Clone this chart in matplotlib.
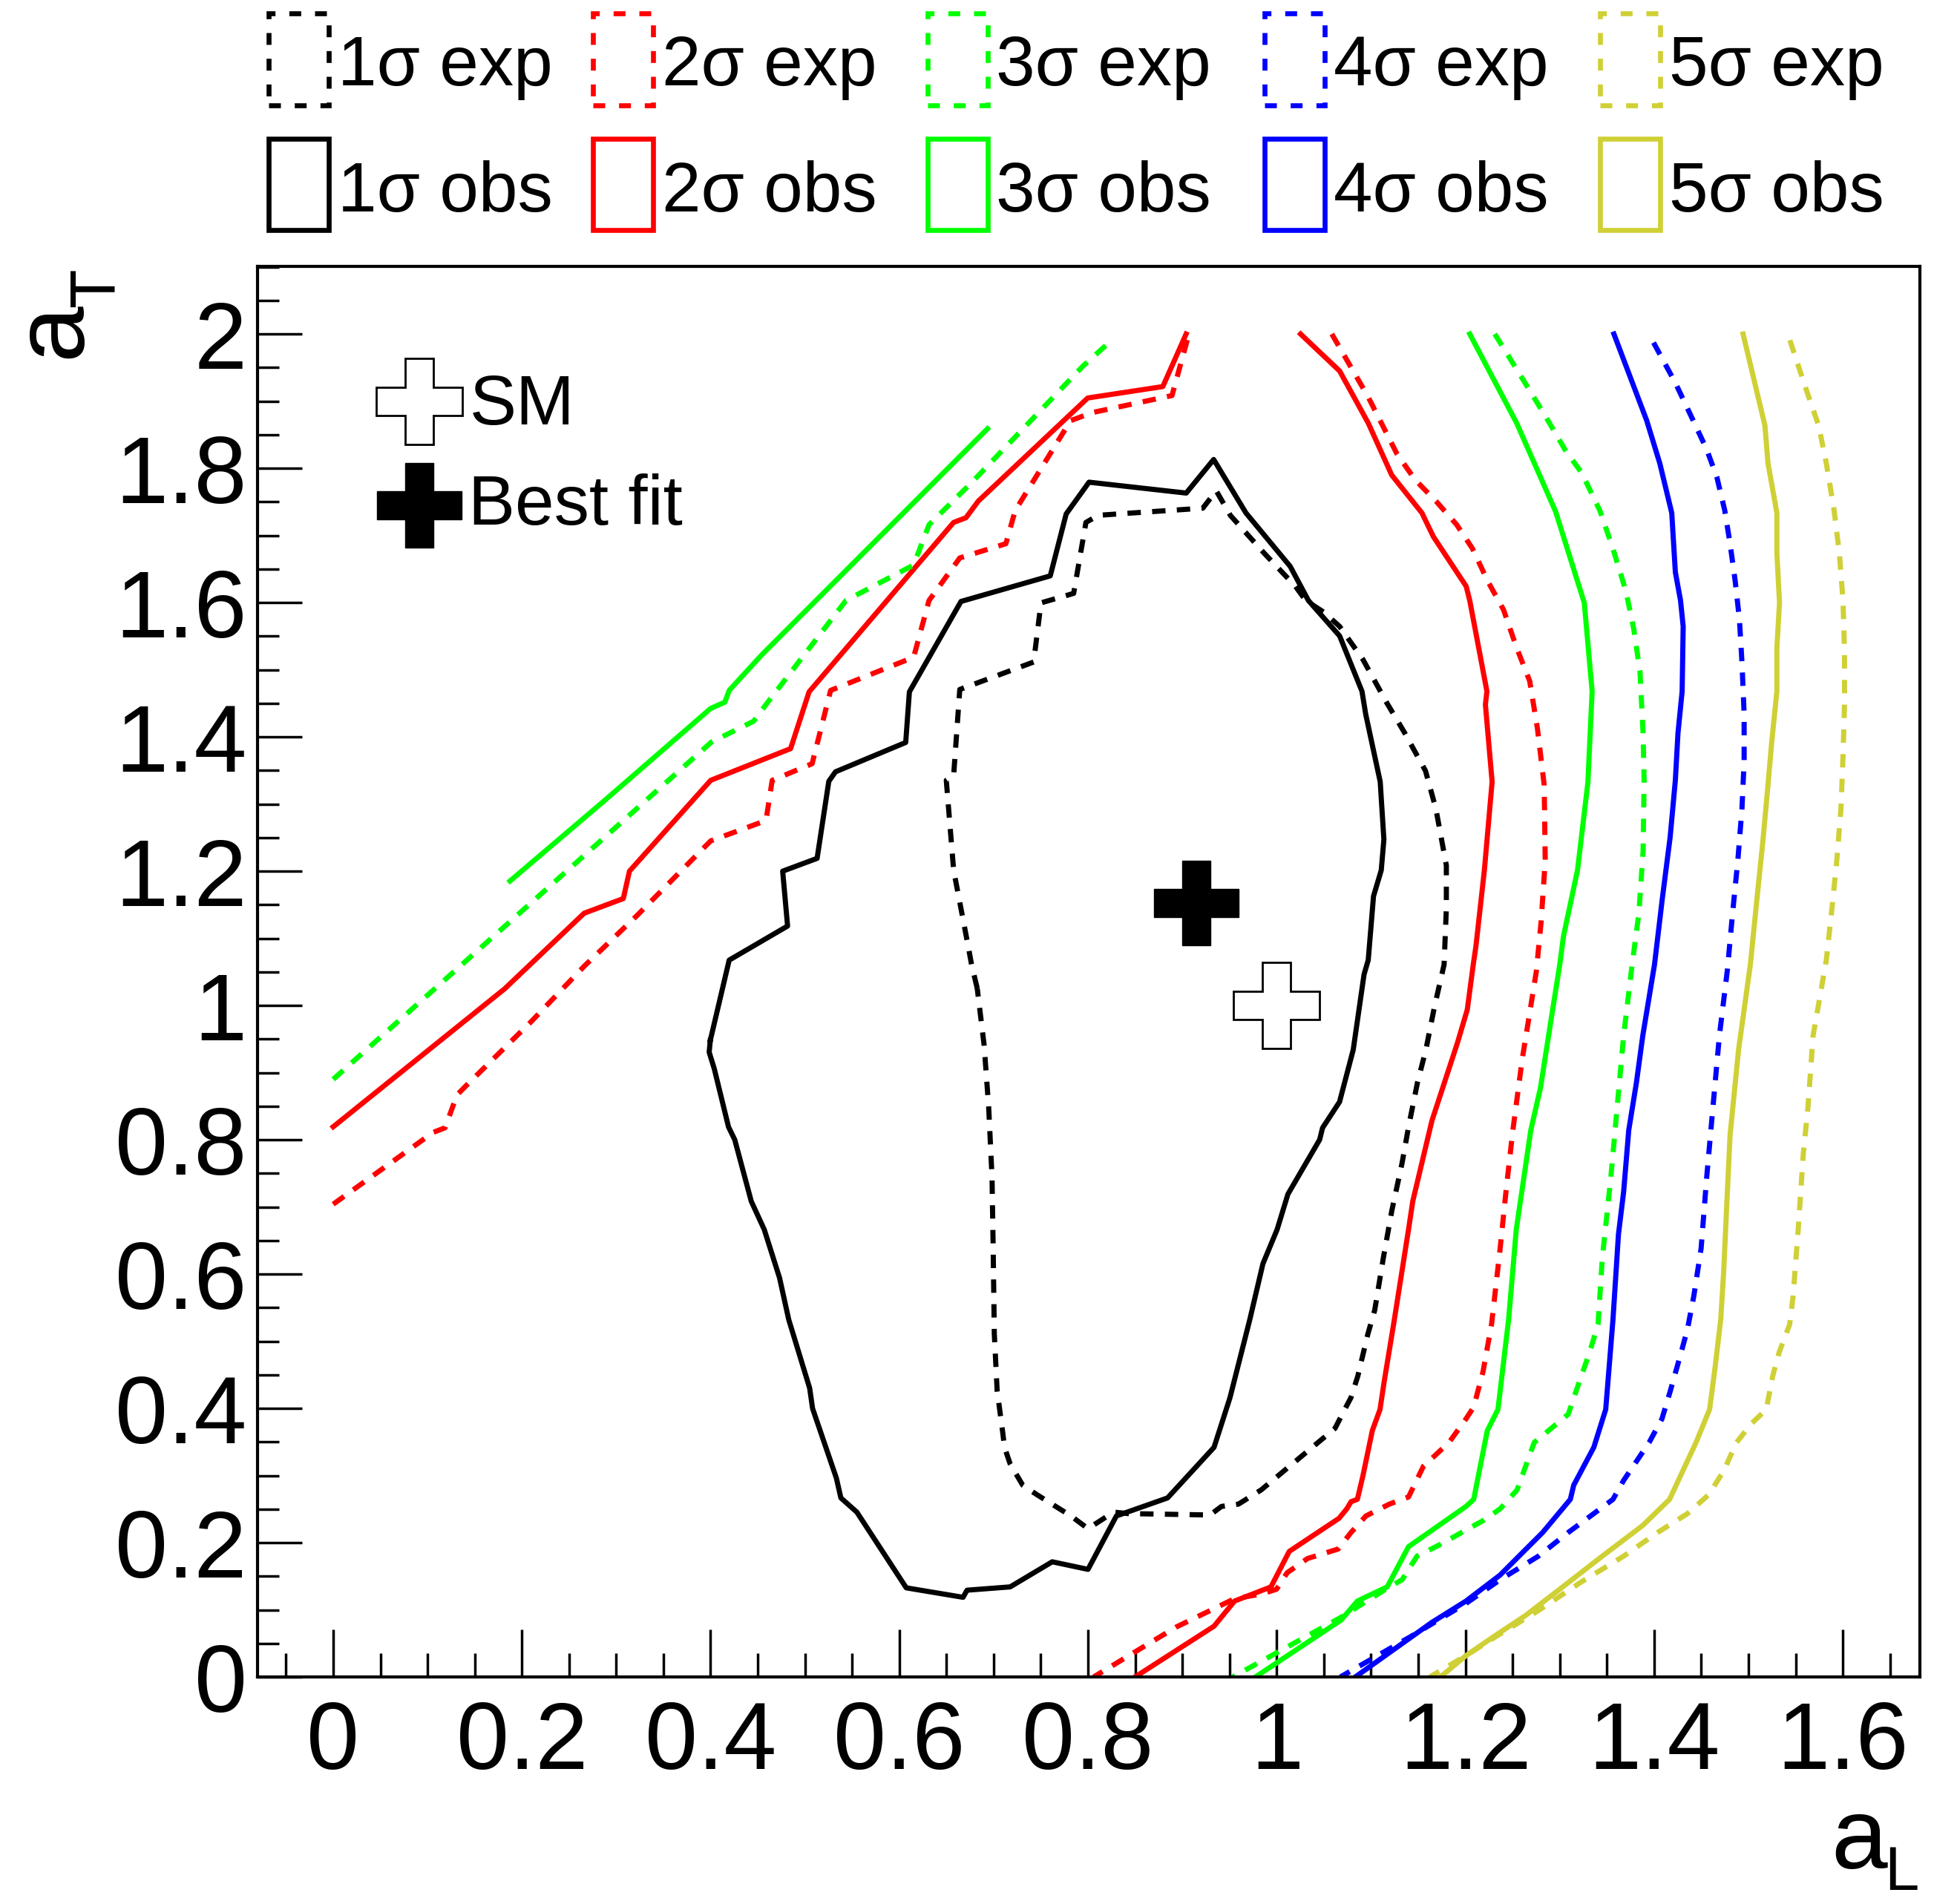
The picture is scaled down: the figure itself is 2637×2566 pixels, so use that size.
import numpy as np
import matplotlib.pyplot as plt
from matplotlib.patches import Rectangle
from matplotlib.lines import Line2D
from matplotlib.ticker import MultipleLocator, FuncFormatter

plt.rcParams['font.family'] = ['Liberation Sans', 'DejaVu Sans']

# contour lines, (a_L, a_T) pairs
obs_1 = [(0.3997, 0.9481), (0.4197, 1.0675), (0.4816, 1.1183), (0.4764, 1.2000), (0.5129, 1.2191),
         (0.5253, 1.3339), (0.5324, 1.3480), (0.6068, 1.3917), (0.6107, 1.4671), (0.6654, 1.6017),
         (0.7600, 1.6398), (0.7769, 1.7321), (0.8011, 1.7793), (0.9041, 1.7631), (0.9332, 1.8131),
         (0.9674, 1.7335), (1.0143, 1.6539), (1.0336, 1.6031), (1.0667, 1.5503), (1.0904, 1.4678),
         (1.0943, 1.4340), (1.1097, 1.3332), (1.1136, 1.2472), (1.1108, 1.2014), (1.1026, 1.1627),
         (1.0970, 1.0675), (1.0926, 1.0464), (1.0811, 0.9340), (1.0666, 0.8564), (1.0486, 0.8177),
         (1.0455, 0.8001), (1.0119, 0.7190), (1.0004, 0.6662), (0.9854, 0.6154), (0.9715, 0.5323),
         (0.9505, 0.4160), (0.9336, 0.3420), (0.8843, 0.2666), (0.8301, 0.2398), (0.8000, 0.1602),
         (0.7621, 0.1715), (0.7175, 0.1341), (0.6718, 0.1292), (0.6676, 0.1186), (0.6074, 0.1327),
         (0.5550, 0.2455), (0.5381, 0.2666), (0.5333, 0.2962), (0.5081, 0.3998), (0.5050, 0.4301),
         (0.4828, 0.5323), (0.4731, 0.5943), (0.4569, 0.6662), (0.4431, 0.7084), (0.4256, 0.8001),
         (0.4190, 0.8191), (0.4039, 0.9058), (0.3985, 0.9304), (0.3997, 0.9481)]

exp_1 = [(0.6826, 1.0256), (0.6766, 1.0608), (0.6739, 1.0816), (0.6576, 1.2014), (0.6498, 1.3353),
         (0.6576, 1.3424), (0.6641, 1.4706), (0.7424, 1.5115), (0.7502, 1.5996), (0.7848, 1.6137),
         (0.7978, 1.7194), (0.8109, 1.7300), (0.9217, 1.7406), (0.9359, 1.7666), (0.9508, 1.7300),
         (0.9867, 1.6736), (1.0198, 1.6243), (1.0308, 1.6031), (1.0501, 1.5855), (1.0667, 1.5644),
         (1.0915, 1.5150), (1.1163, 1.4516), (1.1357, 1.4058), (1.1577, 1.3494), (1.1687, 1.2930),
         (1.1798, 1.2085), (1.1798, 1.1451), (1.1774, 1.0608), (1.1671, 0.9974), (1.1581, 0.9340),
         (1.1491, 0.8846), (1.1400, 0.8212), (1.1328, 0.7648), (1.1220, 0.6944), (1.1130, 0.6239),
         (1.1039, 0.5464), (1.0967, 0.5111), (1.0859, 0.4477), (1.0787, 0.4160), (1.0708, 0.3949),
         (1.0618, 0.3702), (1.0377, 0.3420), (1.0016, 0.2997), (0.9836, 0.2786), (0.9595, 0.2574),
         (0.9414, 0.2539), (0.9294, 0.2412), (0.8421, 0.2433), (0.8271, 0.2455), (0.8000, 0.2208),
         (0.7819, 0.2398), (0.7458, 0.2715), (0.7308, 0.2856), (0.7175, 0.3173), (0.7115, 0.3420),
         (0.7097, 0.3632), (0.7037, 0.4266), (0.7007, 0.5111), (0.6995, 0.6380), (0.6983, 0.7437),
         (0.6947, 0.8494), (0.6899, 0.9410), (0.6826, 1.0256)]

obs_2_left = [(0.0, 0.8193), (0.1818, 1.0249), (0.2660, 1.1374), (0.3075, 1.1592), (0.3140, 1.2000),
              (0.4001, 1.3353), (0.4848, 1.3825), (0.5044, 1.4671), (0.6576, 1.7194), (0.6707, 1.7264),
              (0.6837, 1.7511), (0.7997, 1.9047), (0.8793, 1.9217), (0.9040, 2.0)]
obs_2_right = [(1.0253, 2.0), (1.0667, 1.9449), (1.0970, 1.8674), (1.1219, 1.7899), (1.1539, 1.7335),
               (1.1660, 1.6983), (1.2008, 1.6243), (1.2046, 1.6031), (1.2228, 1.4678), (1.2212, 1.4481),
               (1.2283, 1.3332), (1.2201, 1.2014), (1.2112, 1.0887), (1.2083, 1.0608), (1.2020, 0.9939),
               (1.1916, 0.9445), (1.1645, 0.8283), (1.1442, 0.7084), (1.1397, 0.6662), (1.1239, 0.5252),
               (1.1140, 0.4407), (1.1095, 0.3984), (1.1013, 0.3667), (1.0914, 0.2997), (1.0855, 0.2645),
               (1.0788, 0.2610), (1.0743, 0.2504), (1.0661, 0.2363), (1.0133, 0.1870), (0.9939, 0.1341),
               (0.9553, 0.1130), (0.9336, 0.0756), (0.8499, 0.0)]

exp_2_left = [(0.0, 0.7040), (0.1059, 0.8109), (0.1186, 0.8179), (0.1312, 0.8667), (0.1410, 0.8807),
              (0.2099, 0.9760), (0.2660, 1.0584), (0.3222, 1.1342), (0.4001, 1.2451), (0.4587, 1.2754),
              (0.4653, 1.3353), (0.5076, 1.3600), (0.5272, 1.4692), (0.6152, 1.5186), (0.6315, 1.6031),
              (0.6641, 1.6665), (0.7130, 1.6877), (0.7228, 1.7370), (0.7815, 1.8709), (0.8043, 1.8829),
              (0.8890, 1.9083), (0.9060, 1.9950)]
exp_2_right = [(1.0584, 2.0), (1.0970, 1.9061), (1.1274, 1.8216), (1.1467, 1.7828), (1.1688, 1.7511),
               (1.1908, 1.7159), (1.2074, 1.6806), (1.2239, 1.6313), (1.2405, 1.5890), (1.2543, 1.5327),
               (1.2681, 1.4833), (1.2763, 1.4129), (1.2835, 1.3283), (1.2846, 1.2155), (1.2802, 1.1239),
               (1.2751, 1.0502), (1.2683, 0.9903), (1.2602, 0.9199), (1.2503, 0.8142), (1.2435, 0.7296),
               (1.2368, 0.6380), (1.2277, 0.5252), (1.2187, 0.4548), (1.2088, 0.4019), (1.2006, 0.3843),
               (1.1826, 0.3491), (1.1555, 0.3138), (1.1397, 0.2680), (1.1194, 0.2574), (1.0946, 0.2398),
               (1.0788, 0.2152), (1.0652, 0.1905), (1.0327, 0.1764), (1.0111, 0.1552), (0.9998, 0.1306),
               (0.9840, 0.1236), (0.9553, 0.1165), (0.8933, 0.0742), (0.8060, 0.0)]

obs_3_left = [(0.1874, 1.1853), (0.2892, 1.3071), (0.4001, 1.4424), (0.4151, 1.4516), (0.4197, 1.4692),
              (0.4542, 1.5221), (0.6935, 1.8589)]
obs_3_right = [(1.2046, 2.0), (1.2543, 1.8674), (1.2956, 1.7356), (1.3260, 1.5996), (1.3343, 1.4678),
               (1.3298, 1.3318), (1.3188, 1.2014), (1.3039, 1.1028), (1.3000, 1.0608), (1.2909, 0.9798),
               (1.2796, 0.8776), (1.2693, 0.8142), (1.2539, 0.6662), (1.2458, 0.5323), (1.2345, 0.3984),
               (1.2232, 0.3667), (1.2088, 0.2645), (1.2006, 0.2539), (1.1397, 0.1940), (1.1171, 0.1341),
               (1.1013, 0.1236), (1.0855, 0.1130), (1.0683, 0.0848), (0.9775, 0.0)]

exp_3_left = [(0.0, 0.8900), (0.4009, 1.3923), (0.4457, 1.4234), (0.4587, 1.4481), (0.5435, 1.6031),
              (0.6152, 1.6560), (0.6315, 1.7159), (0.6771, 1.7793), (0.7945, 1.9520), (0.8206, 1.9851)]
exp_3_right = [(1.2311, 2.0), (1.2570, 1.9414), (1.2846, 1.8780), (1.3067, 1.8251), (1.3232, 1.7934),
               (1.3425, 1.7370), (1.3563, 1.6806), (1.3701, 1.6172), (1.3784, 1.5608), (1.3850, 1.4974),
               (1.3883, 1.4058), (1.3894, 1.3353), (1.3883, 1.2296), (1.3839, 1.1380), (1.3767, 1.0608),
               (1.3677, 0.9551), (1.3609, 0.8494), (1.3541, 0.7437), (1.3451, 0.6239), (1.3406, 0.5252),
               (1.3315, 0.4830), (1.3158, 0.4195), (1.3090, 0.3913), (1.2729, 0.3491), (1.2548, 0.2786),
               (1.2368, 0.2504), (1.2187, 0.2328), (1.1961, 0.2152), (1.1736, 0.1975), (1.1487, 0.1799),
               (1.1329, 0.1447), (1.1194, 0.1341), (1.0675, 0.0883), (0.9535, 0.0)]

obs_4 = [(1.3574, 2.0), (1.3922, 1.8709), (1.4060, 1.8075), (1.4187, 1.7335), (1.4225, 1.6454),
         (1.4280, 1.6031), (1.4308, 1.5644), (1.4297, 1.4678), (1.4253, 1.4058), (1.4225, 1.3353),
         (1.4170, 1.2508), (1.4087, 1.1592), (1.4004, 1.0608), (1.3880, 0.9551), (1.3812, 0.8846),
         (1.3731, 0.8142), (1.3677, 0.7225), (1.3622, 0.6591), (1.3564, 0.5323), (1.3487, 0.3984),
         (1.3361, 0.3420), (1.3148, 0.2856), (1.3112, 0.2645), (1.2819, 0.2152), (1.2367, 0.1517),
         (1.2006, 0.1130), (1.1645, 0.0813), (1.0833, 0.0)]

exp_4 = [(1.3994, 1.9872), (1.4225, 1.9273), (1.4391, 1.8780), (1.4556, 1.8286), (1.4666, 1.7863),
         (1.4749, 1.7370), (1.4805, 1.6877), (1.4860, 1.6313), (1.4904, 1.5749), (1.4931, 1.5115),
         (1.4954, 1.4340), (1.4954, 1.3635), (1.4931, 1.2930), (1.4887, 1.2155), (1.4832, 1.1380),
         (1.4777, 1.0534), (1.4692, 0.9551), (1.4624, 0.8494), (1.4557, 0.7437), (1.4498, 0.6380),
         (1.4421, 0.5675), (1.4354, 0.5182), (1.4286, 0.4830), (1.4173, 0.4266), (1.4083, 0.3843),
         (1.3947, 0.3491), (1.3812, 0.3209), (1.3677, 0.2927), (1.3564, 0.2645), (1.3361, 0.2433),
         (1.3090, 0.2152), (1.2774, 0.1799), (1.2367, 0.1447), (1.2006, 0.1095), (1.1420, 0.0601),
         (1.0675, 0.0)]

obs_5 = [(1.4943, 2.0), (1.5174, 1.8639), (1.5207, 1.8075), (1.5301, 1.7335), (1.5301, 1.6736),
         (1.5329, 1.5996), (1.5301, 1.5327), (1.5301, 1.4678), (1.5246, 1.3917), (1.5207, 1.3283),
         (1.5152, 1.2437), (1.5080, 1.1451), (1.5020, 1.0608), (1.4895, 0.9340),
         (1.4805, 0.8071), (1.4760, 0.6732), (1.4737, 0.6028), (1.4706, 0.5323), (1.4647, 0.4618),
         (1.4588, 0.3984), (1.4444, 0.3491), (1.4164, 0.2645), (1.3880, 0.2257), (1.3451, 0.1799),
         (1.2999, 0.1306), (1.2638, 0.0916), (1.2300, 0.0601), (1.2006, 0.0317), (1.1735, 0.0)]

exp_5 = [(1.5439, 1.9907), (1.5605, 1.9202), (1.5743, 1.8639), (1.5825, 1.8075), (1.5908, 1.7370),
         (1.5963, 1.6736), (1.6002, 1.6031), (1.6018, 1.5256), (1.6018, 1.4481), (1.6002, 1.3706),
         (1.5980, 1.2930), (1.5936, 1.2155), (1.5880, 1.1380), (1.5825, 1.0675), (1.5685, 0.9551),
         (1.5631, 0.8494), (1.5581, 0.7789), (1.5527, 0.6662), (1.5473, 0.5675), (1.5437, 0.5252),
         (1.5324, 0.4830), (1.5256, 0.4477), (1.5189, 0.3984), (1.5031, 0.3772), (1.4873, 0.3491),
         (1.4737, 0.3068), (1.4579, 0.2715), (1.4354, 0.2433), (1.4038, 0.2152), (1.3677, 0.1799),
         (1.3225, 0.1412), (1.2774, 0.0989), (1.2322, 0.0601), (1.2006, 0.0317), (1.1623, 0.0)]

sm_point = (1.0, 1.0)
best_fit = (0.915, 1.153)

sigma_labels = ['1', '2', '3', '4', '5']
colors = ['#000000', '#ff0000', '#00ff00', '#0000ff', '#cfd035']
obs_lines = [[obs_1], [obs_2_left, obs_2_right], [obs_3_left, obs_3_right], [obs_4], [obs_5]]
exp_lines = [[exp_1], [exp_2_left, exp_2_right], [exp_3_left, exp_3_right], [exp_4], [exp_5]]

W, H = 2637, 2566
def fx(px):
    return px / W
def fy(py):
    return 1 - py / H

fig = plt.figure(figsize=(W / 100, H / 100), dpi=100)
ax = fig.add_axes([fx(346.6), fy(2260), (2587.4 - 346.6) / W, (2260 - 358.9) / H])

lw = 5
dash = (2.6, 2.2)
for i in range(5):
    for seg in exp_lines[i]:
        xy = np.array(seg)
        ax.plot(xy[:, 0], xy[:, 1], color=colors[i], lw=lw, dashes=dash)
    for seg in obs_lines[i]:
        xy = np.array(seg)
        ax.plot(xy[:, 0], xy[:, 1], color=colors[i], lw=lw)

ax.plot(*best_fit, marker='P', ms=82, mfc='black', mec='black', mew=1)
ax.plot(*sm_point, marker='P', ms=83, mfc='white', mec='black', mew=2)

ax.set_xlim(-0.0805, 1.682)
ax.set_ylim(0, 2.1008)

ax.xaxis.set_major_locator(MultipleLocator(0.2))
ax.xaxis.set_minor_locator(MultipleLocator(0.05))
ax.yaxis.set_major_locator(MultipleLocator(0.2))
ax.yaxis.set_minor_locator(MultipleLocator(0.05))
fmt = FuncFormatter(lambda v, p: f'{v:g}')
ax.xaxis.set_major_formatter(fmt)
ax.yaxis.set_major_formatter(fmt)
ax.tick_params(which='both', direction='in', top=False, right=False, width=2.5)
ax.tick_params(axis='x', which='major', length=46, labelsize=92, pad=22)
ax.tick_params(axis='x', which='minor', length=23)
ax.tick_params(axis='y', which='major', length=43, labelsize=92, pad=10)
ax.tick_params(axis='y', which='minor', length=21)
for s in ax.spines.values():
    s.set_linewidth(3)

# axis titles
fig.text(fx(2467), fy(2518), 'a', fontsize=98, ha='left', va='baseline')
fig.text(fx(2539), fy(2547), 'L', fontsize=60, ha='left', va='baseline')
fig.text(fx(108), fy(483), 'a', fontsize=98, ha='left', va='baseline',
         rotation=90, rotation_mode='anchor')
fig.text(fx(153), fy(414), 'T', fontsize=62, ha='left', va='baseline',
         rotation=90, rotation_mode='anchor')

# marker legend inside the frame
fig.add_artist(Line2D([fx(565)], [fy(541)], marker='P', ms=83, mfc='white', mec='black', mew=2))
fig.add_artist(Line2D([fx(565)], [fy(681)], marker='P', ms=82, mfc='black', mec='black', mew=1))
fig.text(fx(633), fy(572), 'SM', fontsize=68, ha='left', va='baseline')
fig.text(fx(631), fy(707), 'Best fit', fontsize=68, ha='left', va='baseline')

# top legend
col_left = [362, 799, 1249.5, 1704, 2156]
box_w = 81
rows = [(18, 142, 115, 'exp', (0, (2.4, 2.8))), (187, 310, 285, 'obs', '-')]
for i in range(5):
    for top, bottom, base, kind, ls in rows:
        fig.add_artist(Rectangle((fx(col_left[i]), fy(bottom)), box_w / W, (bottom - top) / H,
                                 transform=fig.transFigure, fill=False, ec=colors[i],
                                 lw=4.8, ls=ls))
        fig.text(fx(col_left[i] + box_w + 12), fy(base), f'{sigma_labels[i]}\u03c3 {kind}',
                 fontsize=68, ha='left', va='baseline')

fig.savefig('out.png', dpi=100)
